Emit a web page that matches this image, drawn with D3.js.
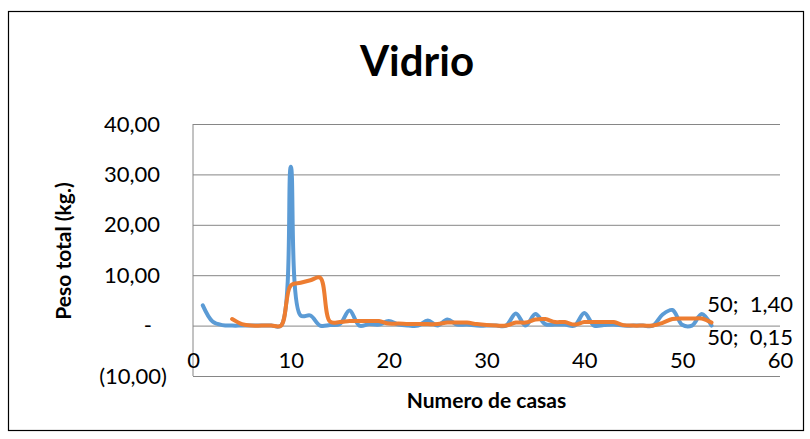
<!DOCTYPE html>
<html>
<head>
<meta charset="utf-8">
<script src="https://d3js.org/d3.v7.min.js"></script>
<style>
  body { margin: 0; background: #fff; }
  text { font-family: Lato, "Open Sans", sans-serif; fill: #000; }
</style>
</head>
<body>
<script>
// Size of the whole picture
var width = 810,
    height = 439;

// Data: house number and glass weight (kg)
var casas = [1, 2, 3, 4, 5, 6, 7, 8, 9, 10, 11, 12, 13, 14, 15, 16, 17, 18, 19, 20,
             21, 22, 23, 24, 25, 26, 27, 28, 29, 30, 31, 32, 33, 34, 35, 36, 37, 38, 39, 40,
             41, 42, 43, 44, 45, 46, 47, 48, 49, 50, 51, 52, 53];
var pesoVidrio = [4.0, 0.8, 0.1, 0, 0, 0, 0, 0, 0, 31.5, 2.0, 2.0, 0, 0.1, 0.3, 3.0, 0, 0.3, 0.2, 0.9,
                  0.2, 0, 0, 1.0, 0, 1.2, 0.2, 0.2, 0, 0, 0, 0, 2.4, 0, 2.3, 0.3, 0.2, 0.2, 0, 2.5,
                  0, 0.1, 0.2, 0, 0, 0, 0, 2.2, 3.1, 0.15, 0, 2.3, 0];

// Trend line (orange), starts at house 4
var casasTendencia = [4, 5, 6, 7, 8, 9, 10, 11, 12, 13, 14, 15, 16, 17, 18, 19, 20,
                      21, 22, 23, 24, 25, 26, 27, 28, 29, 30, 31, 32, 33, 34, 35, 36, 37, 38, 39, 40,
                      41, 42, 43, 44, 45, 46, 47, 48, 49, 50, 51, 52, 53];
var pesoTendencia = [1.3, 0.3, 0, 0, 0, 0, 8.0, 8.5, 9.0, 9.5, 0.8, 0.7, 0.9, 0.9, 0.9, 0.9, 0.4,
                     0.4, 0.3, 0.3, 0.3, 0.3, 0.6, 0.6, 0.6, 0.3, 0.1, 0, 0, 0.6, 0.6, 1.2, 1.3, 0.7, 0.7, 0.2, 0.7,
                     0.7, 0.7, 0.7, 0.1, 0, 0, 0, 0.55, 1.3, 1.4, 1.4, 1.4, 0.6];

// Axis ticks
var xTicks = [0, 10, 20, 30, 40, 50, 60];
var yTicks = [-10, 0, 10, 20, 30, 40];

// Point labels (at house 50)
var etiquetas = [
  { x: 50, y: 1.40, text: "50;  1,40", dy: -7 },
  { x: 50, y: 0.15, text: "50;  0,15", dy: 20 }
];

var svg = d3.select("body")
    .append("svg")
    .attr("width", width)
    .attr("height", height);

svg.append("rect")
    .attr("width", width)
    .attr("height", height)
    .attr("fill", "#fff");

// chart frame
svg.append("rect")
    .attr("x", 8.5)
    .attr("y", 11.5)
    .attr("width", 795)
    .attr("height", 419)
    .attr("fill", "none")
    .attr("stroke", "#000")
    .attr("stroke-width", 1.2);

// plot area (names avoid window.top)
var plotLeft = 193, plotRight = 780, plotTop = 124, plotBottom = 376;

var x = d3.scaleLinear().domain([0, 60]).range([plotLeft, plotRight]);
var y = d3.scaleLinear().domain([-10, 40]).range([plotBottom, plotTop]);

// number format like the spreadsheet: 10,00 / - / (10,00)
function fmt(v) {
    if (v === 0) return "-";
    var s = d3.format(".2f")(Math.abs(v)).replace(".", ",");
    return v < 0 ? "(" + s + ")" : s;
}

// y axis with gridlines
var gy = svg.append("g")
    .attr("transform", "translate(" + plotLeft + ",0)")
    .call(d3.axisLeft(y).tickValues(yTicks).tickSize(-(plotRight - plotLeft)).tickPadding(26).tickFormat(fmt));
gy.select(".domain").remove();
gy.selectAll(".tick line").attr("stroke", "#868686").attr("stroke-width", 1);
gy.selectAll(".tick text")
    .style("font-family", "Lato, sans-serif")
    .style("font-size", "22px")
    .attr("fill", "#000")
    .attr("dx", function(d) { return d > 0 ? -7 : (d === 0 ? -15 : 0); });

// vertical axis line
svg.append("line")
    .attr("x1", plotLeft).attr("x2", plotLeft)
    .attr("y1", plotTop).attr("y2", plotBottom)
    .attr("stroke", "#868686");

// x axis labels, next to the zero line
var gx = svg.append("g")
    .attr("transform", "translate(0," + y(0) + ")")
    .call(d3.axisBottom(x).tickValues(xTicks).tickSize(0).tickPadding(27));
gx.select(".domain").remove();
gx.selectAll(".tick text")
    .style("font-family", "Lato, sans-serif")
    .style("font-size", "22px")
    .attr("fill", "#000");

// smooth lines
var line = d3.line()
    .x(function(d) { return x(d[0]); })
    .y(function(d) { return y(d[1]); })
    .curve(d3.curveCatmullRom.alpha(0.5));

svg.append("path")
    .datum(d3.zip(casas, pesoVidrio))
    .attr("d", line)
    .attr("fill", "none")
    .attr("stroke", "#5B9BD5")
    .attr("stroke-width", 4)
    .attr("stroke-linejoin", "round")
    .attr("stroke-linecap", "round");

svg.append("path")
    .datum(d3.zip(casasTendencia, pesoTendencia))
    .attr("d", line)
    .attr("fill", "none")
    .attr("stroke", "#ED7D31")
    .attr("stroke-width", 4)
    .attr("stroke-linejoin", "round")
    .attr("stroke-linecap", "round");

// data labels
svg.selectAll(".etiqueta")
    .data(etiquetas)
    .enter().append("text")
    .attr("class", "etiqueta")
    .attr("x", function(d) { return x(d.x) + 25; })
    .attr("y", function(d) { return y(d.y) + d.dy; })
    .style("font-size", "22px")
    .style("white-space", "pre")
    .text(function(d) { return d.text; });

// titles
svg.append("text")
    .attr("x", 417)
    .attr("y", 76)
    .attr("text-anchor", "middle")
    .style("font-size", "42px")
    .style("font-weight", "bold")
    .text("Vidrio");

svg.append("text")
    .attr("transform", "translate(71,251) rotate(-90)")
    .attr("text-anchor", "middle")
    .style("font-size", "21px")
    .style("font-weight", "bold")
    .text("Peso total (kg.)");

svg.append("text")
    .attr("x", (plotLeft + plotRight) / 2)
    .attr("y", 408)
    .attr("text-anchor", "middle")
    .style("font-size", "21px")
    .style("font-weight", "bold")
    .text("Numero de casas");
</script>
</body>
</html>
